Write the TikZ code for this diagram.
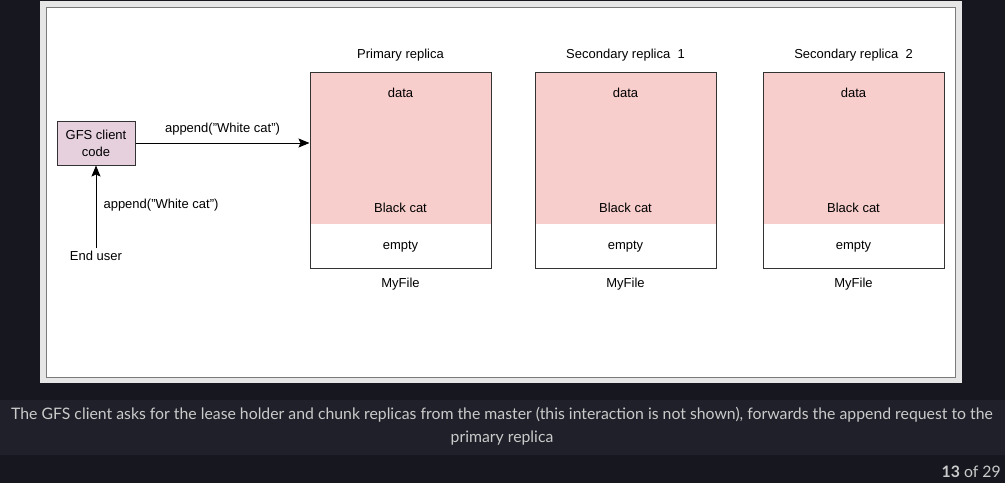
\documentclass[tikz,border=0pt]{standalone}
\usepackage{fontspec}
\setmainfont{Liberation Sans}
\newfontfamily\capfont{Lato}
\usetikzlibrary{arrows.meta}
\definecolor{bgdark}{HTML}{16171F}
\definecolor{capbg}{HTML}{1F2029}
\definecolor{panelgray}{HTML}{E6E6E6}
\definecolor{panelline}{HTML}{7A7A7A}
\definecolor{pinkfill}{HTML}{F8CECC}
\definecolor{clientfill}{HTML}{E6D0DE}
\definecolor{edge}{HTML}{333333}
\definecolor{captext}{HTML}{CACACA}
\tikzset{
  lbl/.style={font=\fontsize{13}{15}\selectfont, text=black, inner sep=1pt},
  clientbox/.style={draw=edge, line width=1pt, fill=clientfill, minimum width=78pt, minimum height=44pt, align=center, font=\fontsize{13}{17}\selectfont, text=black, inner sep=0pt},
  replica/.style={draw=edge, line width=1pt, fill=pinkfill, minimum width=181pt, minimum height=196pt, inner sep=0pt,
    path picture={\fill[white] ([yshift=44pt]path picture bounding box.south west) rectangle (path picture bounding box.south east);}},
  conn/.style={draw=black, line width=1pt, -{Stealth[length=11pt,width=9pt,inset=2pt]}},
  captxt/.style={font=\capfont\fontsize{15.8}{18}\selectfont, text=captext, inner sep=0pt}
}
\begin{document}
\begin{tikzpicture}[x=1pt,y=-1pt]
\useasboundingbox (0,0) rectangle (1005,483);
\fill[bgdark] (0,0) rectangle (1005,483);
\fill[capbg] (0,400) rectangle (1005,455);
\fill[panelgray] (40,1) rectangle (962,383);
\draw[fill=white, draw=panelline, line width=1pt] (46,7) rectangle (955,377);

% client and user
\node[clientbox] (client) at (96,143) {GFS client\\code};
\node[lbl, inner sep=3pt] (user) at (96,256) {End user};

% replicas
\node[replica] (p) at (400.5,170) {};
\node[replica] (s1) at (625.5,170) {};
\node[replica] (s2) at (853.5,170) {};

\foreach \b/\t in {p/Primary replica, s1/Secondary replica\ \ 1, s2/Secondary replica\ \ 2}{
  \node[lbl] (\b title) at ([yshift=16pt]\b.north) {\t};
  \node[lbl] (\b data) at ([yshift=-21pt]\b.north) {data};
  \node[lbl] (\b black) at ([yshift=61pt]\b.south) {Black cat};
  \node[lbl] (\b empty) at ([yshift=22pt]\b.south) {empty};
  \node[lbl] (\b file) at ([yshift=-16pt]\b.south) {MyFile};
}

% connectors
\draw[conn] (client.east) -- (client.east -| p.west) node[lbl, midway, above=6pt] (lblA) {append("White cat")};
\draw[conn] (user.north) -- (client.south);
\node[lbl] (lblB) at (161,205) {append("White cat")};

% caption
\node[captxt] (cap1) at (502,415) {The GFS client asks for the lease holder and chunk replicas from the master (this interaction is not shown), forwards the append request to the};
\node[captxt] (cap2) at (502,438) {primary replica};
\node[captxt, anchor=east] (page) at (1001,472) {\textbf{13} of 29};
\end{tikzpicture}
\end{document}
